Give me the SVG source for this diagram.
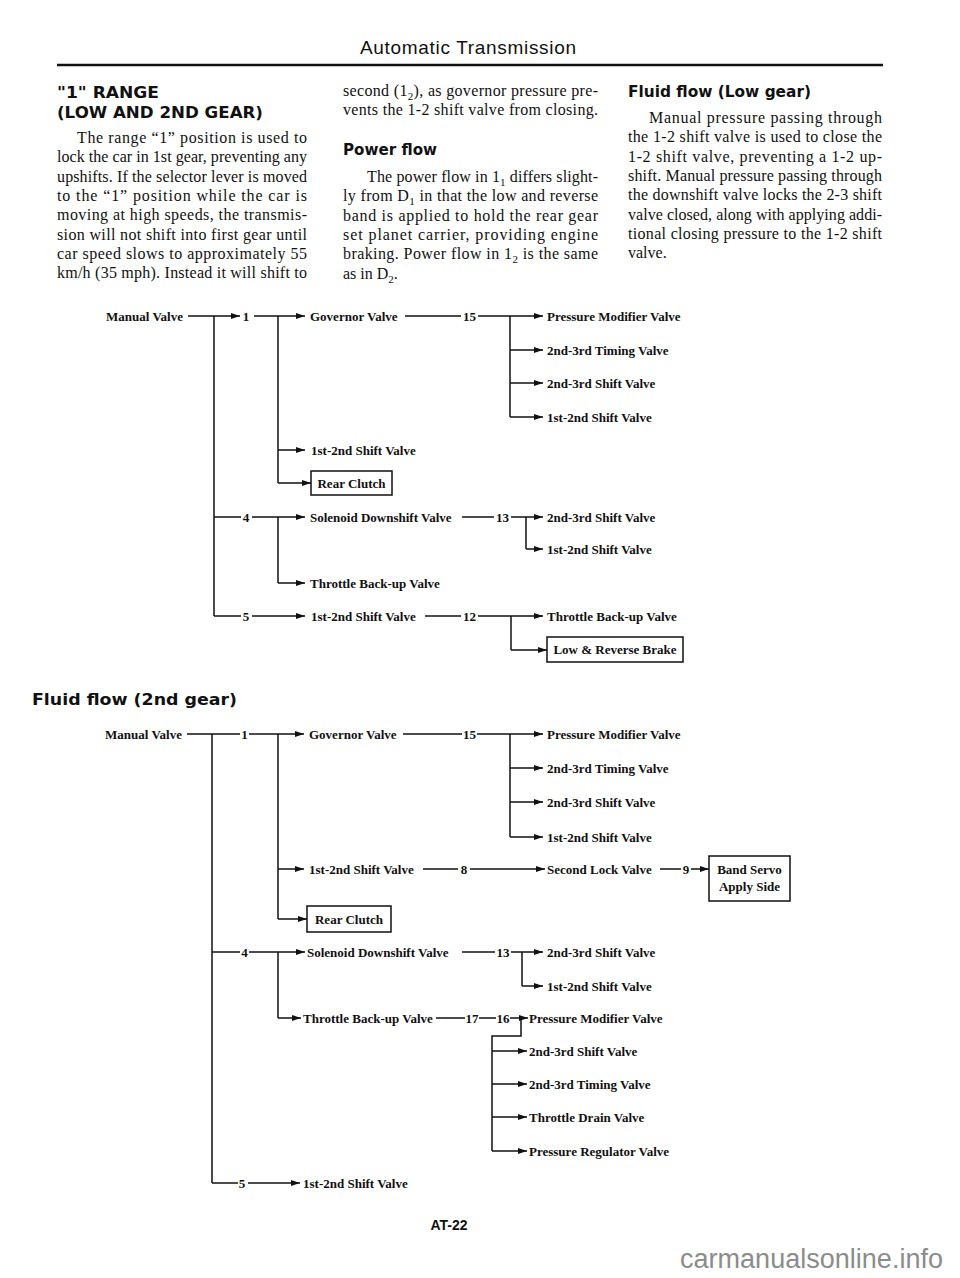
<svg xmlns="http://www.w3.org/2000/svg" width="960" height="1278" viewBox="0 0 960 1278">
<defs>
<marker id="ah" markerUnits="userSpaceOnUse" markerWidth="10" markerHeight="7" refX="9" refY="3.5" orient="auto">
<path d="M0,0.5 L9,3.5 L0,6.5 z" fill="#111"/>
</marker>
</defs>
<style>
.body{font-family:"Liberation Serif","Times New Roman",serif;font-size:16px;fill:#111}
.hd{font-family:"DejaVu Sans","Liberation Sans",sans-serif;font-weight:bold;font-size:15px;fill:#111}
.t{font-family:"Liberation Serif","Times New Roman",serif;font-weight:bold;font-size:13px;fill:#111}
.n{font-family:"Liberation Serif","Times New Roman",serif;font-weight:bold;font-size:13px;fill:#111;text-anchor:middle}
.ln{fill:none;stroke:#111;stroke-width:1.5}
.ar{fill:none;stroke:#111;stroke-width:1.5;marker-end:url(#ah)}
.box{fill:#fff;stroke:#111;stroke-width:1.5}
.sub{font-size:11px}
</style>
<rect width="960" height="1278" fill="#fff"/>

<g id="header">
<text x="468" y="54" text-anchor="middle" font-family="Liberation Sans, Arial, sans-serif" font-size="19" fill="#111" textLength="216" lengthAdjust="spacing">Automatic Transmission</text>
<line x1="57" y1="65" x2="883" y2="65" stroke="#111" stroke-width="2.5"/>
</g>

<g id="col-left">
<text class="hd" x="57" y="98" font-size="16" textLength="102" lengthAdjust="spacingAndGlyphs">"1" RANGE</text>
<text class="hd" x="57" y="118" font-size="16" textLength="206" lengthAdjust="spacingAndGlyphs">(LOW AND 2ND GEAR)</text>
<text class="body" x="77" y="143" textLength="230" lengthAdjust="spacing">The range “1” position is used to</text>
<text class="body" x="57" y="162.3" textLength="250" lengthAdjust="spacing">lock the car in 1st gear, preventing any</text>
<text class="body" x="57" y="181.6" textLength="250" lengthAdjust="spacing">upshifts. If the selector lever is moved</text>
<text class="body" x="57" y="200.9" textLength="250" lengthAdjust="spacing">to the “1” position while the car is</text>
<text class="body" x="57" y="220.2" textLength="250" lengthAdjust="spacing">moving at high speeds, the transmis-</text>
<text class="body" x="57" y="239.5" textLength="250" lengthAdjust="spacing">sion will not shift into first gear until</text>
<text class="body" x="57" y="258.8" textLength="250" lengthAdjust="spacing">car speed slows to approximately 55</text>
<text class="body" x="57" y="278.1" textLength="250" lengthAdjust="spacing">km/h (35 mph). Instead it will shift to</text>
</g>

<g id="col-mid">
<text class="body" x="343" y="96" textLength="255" lengthAdjust="spacing">second (1<tspan class="sub" dy="4">2</tspan><tspan dy="-4">), as governor pressure pre-</tspan></text>
<text class="body" x="343" y="115.3" textLength="255" lengthAdjust="spacing">vents the 1-2 shift valve from closing.</text>
<text class="hd" x="343" y="155" textLength="94" lengthAdjust="spacingAndGlyphs">Power flow</text>
<text class="body" x="367" y="182" textLength="231" lengthAdjust="spacing">The power flow in 1<tspan class="sub" dy="4">1</tspan><tspan dy="-4"> differs slight-</tspan></text>
<text class="body" x="343" y="201.3" textLength="255" lengthAdjust="spacing">ly from D<tspan class="sub" dy="4">1</tspan><tspan dy="-4"> in that the low and reverse</tspan></text>
<text class="body" x="343" y="220.6" textLength="255" lengthAdjust="spacing">band is applied to hold the rear gear</text>
<text class="body" x="343" y="239.9" textLength="255" lengthAdjust="spacing">set planet carrier, providing engine</text>
<text class="body" x="343" y="259.2" textLength="255" lengthAdjust="spacing">braking. Power flow in 1<tspan class="sub" dy="4">2</tspan><tspan dy="-4"> is the same</tspan></text>
<text class="body" x="343" y="278.5">as in D<tspan class="sub" dy="4">2</tspan><tspan dy="-4">.</tspan></text>
</g>

<g id="col-right">
<text class="hd" x="628" y="97" textLength="183" lengthAdjust="spacingAndGlyphs">Fluid flow (Low gear)</text>
<text class="body" x="649" y="123" textLength="233" lengthAdjust="spacing">Manual pressure passing through</text>
<text class="body" x="628" y="142.3" textLength="254" lengthAdjust="spacing">the 1-2 shift valve is used to close the</text>
<text class="body" x="628" y="161.6" textLength="254" lengthAdjust="spacing">1-2 shift valve, preventing a 1-2 up-</text>
<text class="body" x="628" y="180.9" textLength="254" lengthAdjust="spacing">shift. Manual pressure passing through</text>
<text class="body" x="628" y="200.2" textLength="254" lengthAdjust="spacing">the downshift valve locks the 2-3 shift</text>
<text class="body" x="628" y="219.5" textLength="254" lengthAdjust="spacing">valve closed, along with applying addi-</text>
<text class="body" x="628" y="238.8" textLength="254" lengthAdjust="spacing">tional closing pressure to the 1-2 shift</text>
<text class="body" x="628" y="258.1">valve.</text>
</g>

<g id="connectors">
<!-- diagram 1 -->
<path class="ar" d="M188,316 H240"/>
<path class="ln" d="M214,316 V616"/>
<path class="ar" d="M254,316 H305"/>
<path class="ln" d="M278,316 V483"/>
<path class="ar" d="M278,450 H305"/>
<path class="ar" d="M278,483 H311"/>
<path class="ln" d="M214,517 H241"/>
<path class="ar" d="M252,517 H305"/>
<path class="ln" d="M278,517 V583"/>
<path class="ar" d="M278,583 H305"/>
<path class="ln" d="M214,616 H241"/>
<path class="ar" d="M252,616 H305"/>
<path class="ln" d="M405,316 H461"/>
<path class="ar" d="M478,316 H543"/>
<path class="ln" d="M510,316 V417"/>
<path class="ar" d="M510,350 H543"/>
<path class="ar" d="M510,383 H543"/>
<path class="ar" d="M510,417 H543"/>
<path class="ln" d="M462,517 H494"/>
<path class="ar" d="M511,517 H543"/>
<path class="ln" d="M526,517 V549"/>
<path class="ar" d="M526,549 H543"/>
<path class="ln" d="M425,616 H461"/>
<path class="ar" d="M478,616 H543"/>
<path class="ln" d="M511,616 V650"/>
<path class="ar" d="M511,650 H547"/>
<!-- diagram 2 -->
<path class="ln" d="M187,734 H240"/>
<path class="ln" d="M212,734 V1183"/>
<path class="ar" d="M249,734 H304"/>
<path class="ln" d="M278,734 V919"/>
<path class="ln" d="M403,734 H462"/>
<path class="ar" d="M477,734 H543"/>
<path class="ln" d="M510,734 V837"/>
<path class="ar" d="M510,768 H543"/>
<path class="ar" d="M510,802 H543"/>
<path class="ar" d="M510,837 H543"/>
<path class="ar" d="M278,869 H304"/>
<path class="ln" d="M423,869 H458"/>
<path class="ar" d="M470,869 H545"/>
<path class="ln" d="M660,869 H681"/>
<path class="ar" d="M691,869 H709"/>
<path class="ar" d="M278,919 H307"/>
<path class="ln" d="M212,952 H240"/>
<path class="ar" d="M249,952 H305"/>
<path class="ln" d="M278,952 V1018"/>
<path class="ar" d="M278,1018 H301"/>
<path class="ln" d="M462,952 H495"/>
<path class="ar" d="M511,952 H543"/>
<path class="ln" d="M522,952 V986"/>
<path class="ar" d="M522,986 H543"/>
<path class="ln" d="M436,1018 H465"/>
<path class="ln" d="M479,1018 H496"/>
<path class="ar" d="M510,1018 H528"/>
<path class="ln" d="M521,1018 V1036 H492 V1151"/>
<path class="ar" d="M492,1051 H527"/>
<path class="ar" d="M492,1084 H527"/>
<path class="ar" d="M492,1117 H527"/>
<path class="ar" d="M492,1151 H527"/>
<path class="ln" d="M212,1183 H238"/>
<path class="ar" d="M248,1183 H300"/>
</g>

<g id="d1-manual"><text class="t" x="183" y="320.5" text-anchor="end">Manual Valve</text></g>
<g id="d1-n1"><text class="n" x="246" y="320.5">1</text></g>
<g id="d1-n4"><text class="n" x="246" y="521.5">4</text></g>
<g id="d1-n5"><text class="n" x="246" y="620.5">5</text></g>
<g id="d1-governor"><text class="t" x="310" y="320.5">Governor Valve</text></g>
<g id="d1-n15"><text class="n" x="469.5" y="320.5">15</text></g>
<g id="d1-pmv"><text class="t" x="547" y="320.5">Pressure Modifier Valve</text></g>
<g id="d1-23timing"><text class="t" x="547" y="354.5">2nd-3rd Timing Valve</text></g>
<g id="d1-23shift"><text class="t" x="547" y="387.5">2nd-3rd Shift Valve</text></g>
<g id="d1-12shift-a"><text class="t" x="547" y="421.5">1st-2nd Shift Valve</text></g>
<g id="d1-12shift-b"><text class="t" x="311" y="454.5">1st-2nd Shift Valve</text></g>
<g id="d1-rearclutch"><rect class="box" x="311" y="471" width="81" height="24"/><text class="n" x="351.5" y="487.5">Rear Clutch</text></g>
<g id="d1-solenoid"><text class="t" x="310" y="521.5">Solenoid Downshift Valve</text></g>
<g id="d1-n13"><text class="n" x="502.5" y="521.5">13</text></g>
<g id="d1-23shift-b"><text class="t" x="547" y="521.5">2nd-3rd Shift Valve</text></g>
<g id="d1-12shift-c"><text class="t" x="547" y="553.5">1st-2nd Shift Valve</text></g>
<g id="d1-throttle"><text class="t" x="310" y="587.5">Throttle Back-up Valve</text></g>
<g id="d1-12shift-d"><text class="t" x="311" y="620.5">1st-2nd Shift Valve</text></g>
<g id="d1-n12"><text class="n" x="469.5" y="620.5">12</text></g>
<g id="d1-throttle-b"><text class="t" x="547" y="620.5">Throttle Back-up Valve</text></g>
<g id="d1-lowrev"><rect class="box" x="547" y="637" width="136" height="25"/><text class="n" x="615" y="654">Low &amp; Reverse Brake</text></g>

<g id="d2-title"><text class="hd" x="32" y="705" textLength="205" lengthAdjust="spacingAndGlyphs">Fluid flow (2nd gear)</text></g>
<g id="d2-manual"><text class="t" x="182" y="738.5" text-anchor="end">Manual Valve</text></g>
<g id="d2-n1"><text class="n" x="244.5" y="738.5">1</text></g>
<g id="d2-governor"><text class="t" x="309" y="738.5">Governor Valve</text></g>
<g id="d2-n15"><text class="n" x="469.5" y="738.5">15</text></g>
<g id="d2-pmv"><text class="t" x="547" y="738.5">Pressure Modifier Valve</text></g>
<g id="d2-23timing"><text class="t" x="547" y="772.5">2nd-3rd Timing Valve</text></g>
<g id="d2-23shift"><text class="t" x="547" y="806.5">2nd-3rd Shift Valve</text></g>
<g id="d2-12shift-a"><text class="t" x="547" y="841.5">1st-2nd Shift Valve</text></g>
<g id="d2-12shift-b"><text class="t" x="309" y="873.5">1st-2nd Shift Valve</text></g>
<g id="d2-n8"><text class="n" x="464" y="873.5">8</text></g>
<g id="d2-secondlock"><text class="t" x="547" y="873.5">Second Lock Valve</text></g>
<g id="d2-n9"><text class="n" x="686" y="873.5">9</text></g>
<g id="d2-bandservo"><rect class="box" x="709" y="856" width="81" height="45"/><text class="n" x="749.5" y="874">Band Servo</text><text class="n" x="749.5" y="891">Apply Side</text></g>
<g id="d2-rearclutch"><rect class="box" x="307" y="906" width="84" height="26"/><text class="n" x="349" y="923.5">Rear Clutch</text></g>
<g id="d2-n4"><text class="n" x="244.5" y="956.5">4</text></g>
<g id="d2-solenoid"><text class="t" x="307" y="956.5">Solenoid Downshift Valve</text></g>
<g id="d2-n13"><text class="n" x="503" y="956.5">13</text></g>
<g id="d2-23shift-b"><text class="t" x="547" y="956.5">2nd-3rd Shift Valve</text></g>
<g id="d2-12shift-c"><text class="t" x="547" y="990.5">1st-2nd Shift Valve</text></g>
<g id="d2-throttle"><text class="t" x="303" y="1022.5">Throttle Back-up Valve</text></g>
<g id="d2-n17"><text class="n" x="472" y="1022.5">17</text></g>
<g id="d2-n16"><text class="n" x="503" y="1022.5">16</text></g>
<g id="d2-pmv-b"><text class="t" x="529" y="1022.5">Pressure Modifier Valve</text></g>
<g id="d2-23shift-c"><text class="t" x="529" y="1055.5">2nd-3rd Shift Valve</text></g>
<g id="d2-23timing-b"><text class="t" x="529" y="1088.5">2nd-3rd Timing Valve</text></g>
<g id="d2-throttledrain"><text class="t" x="529" y="1121.5">Throttle Drain Valve</text></g>
<g id="d2-pressreg"><text class="t" x="529" y="1155.5">Pressure Regulator Valve</text></g>
<g id="d2-n5"><text class="n" x="242" y="1187.5">5</text></g>
<g id="d2-12shift-d"><text class="t" x="303" y="1187.5">1st-2nd Shift Valve</text></g>

<g id="footer">
<text x="449" y="1230" text-anchor="middle" font-family="Liberation Sans, Arial, sans-serif" font-weight="bold" font-size="14" fill="#111">AT-22</text>
<text x="680" y="1268" font-family="Liberation Sans, Arial, sans-serif" font-size="27" fill="#8c8c8c" textLength="263" lengthAdjust="spacingAndGlyphs">carmanualsonline.info</text>
</g>
</svg>
